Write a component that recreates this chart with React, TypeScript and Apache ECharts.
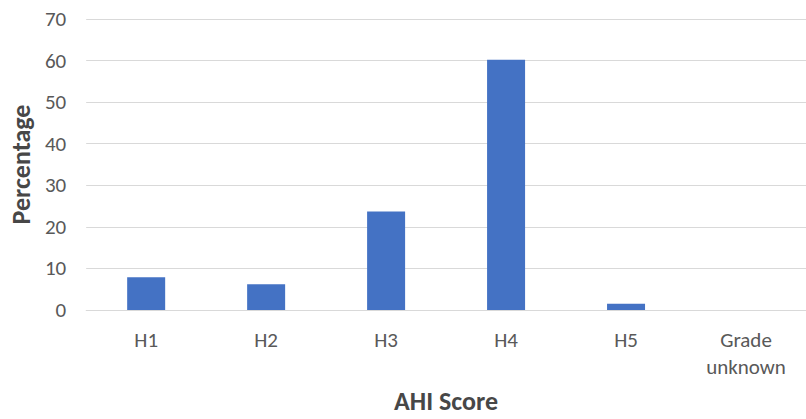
import React, { useEffect, useRef } from "react";
import * as echarts from "echarts";

// AHI score distribution (percentage of patients per grade)
const categories: string[] = ["H1", "H2", "H3", "H4", "H5", "Grade\nunknown"];
const percentages: number[] = [7.9, 6.2, 23.7, 60.2, 1.5, 0];
const yMin = 0;
const yMax = 70;
const yStep = 10;

const FONT = "Carlito, 'Open Sans', 'Noto Sans', sans-serif";
const TEXT = "#595959";
const GRID = "#D9D9D9";
const BAR = "#4472C4";

export default function App() {
  const ref = useRef<HTMLDivElement>(null);

  useEffect(() => {
    if (!ref.current) return;
    const chart = echarts.init(ref.current, undefined, { renderer: "svg" });
    chart.setOption({
      animation: false,
      backgroundColor: "#ffffff",
      grid: { left: 82.7, top: 19, width: 726.6, height: 300.3, containLabel: false },
      xAxis: {
        type: "category",
        data: categories,
        name: "AHI Score",
        nameLocation: "middle",
        nameGap: 78,
        nameTextStyle: { color: "#474747", fontFamily: FONT, fontSize: 26, fontWeight: "bold" },
        axisLine: { lineStyle: { color: GRID, width: 1 } },
        axisTick: { show: false },
        axisLabel: {
          color: TEXT,
          fontFamily: FONT,
          fontSize: 21,
          lineHeight: 27,
          margin: 16,
          interval: 0,
        },
      },
      yAxis: {
        type: "value",
        min: yMin,
        max: yMax,
        interval: yStep,
        name: "Percentage",
        nameLocation: "middle",
        nameGap: 51,
        nameRotate: 90,
        nameTextStyle: { color: "#474747", fontFamily: FONT, fontSize: 26, fontWeight: "bold" },
        axisLine: { show: false },
        axisTick: { show: false },
        axisLabel: { color: TEXT, fontFamily: FONT, fontSize: 21, margin: 20 },
        splitLine: { lineStyle: { color: GRID, width: 1 } },
      },
      series: [
        {
          type: "bar",
          data: percentages,
          barWidth: 38,
          itemStyle: { color: BAR },
        },
      ],
    });
    return () => chart.dispose();
  }, []);

  return (
    <div
      ref={ref}
      style={{ position: "absolute", left: 0, top: 0, width: 806, height: 419 }}
    />
  );
}
